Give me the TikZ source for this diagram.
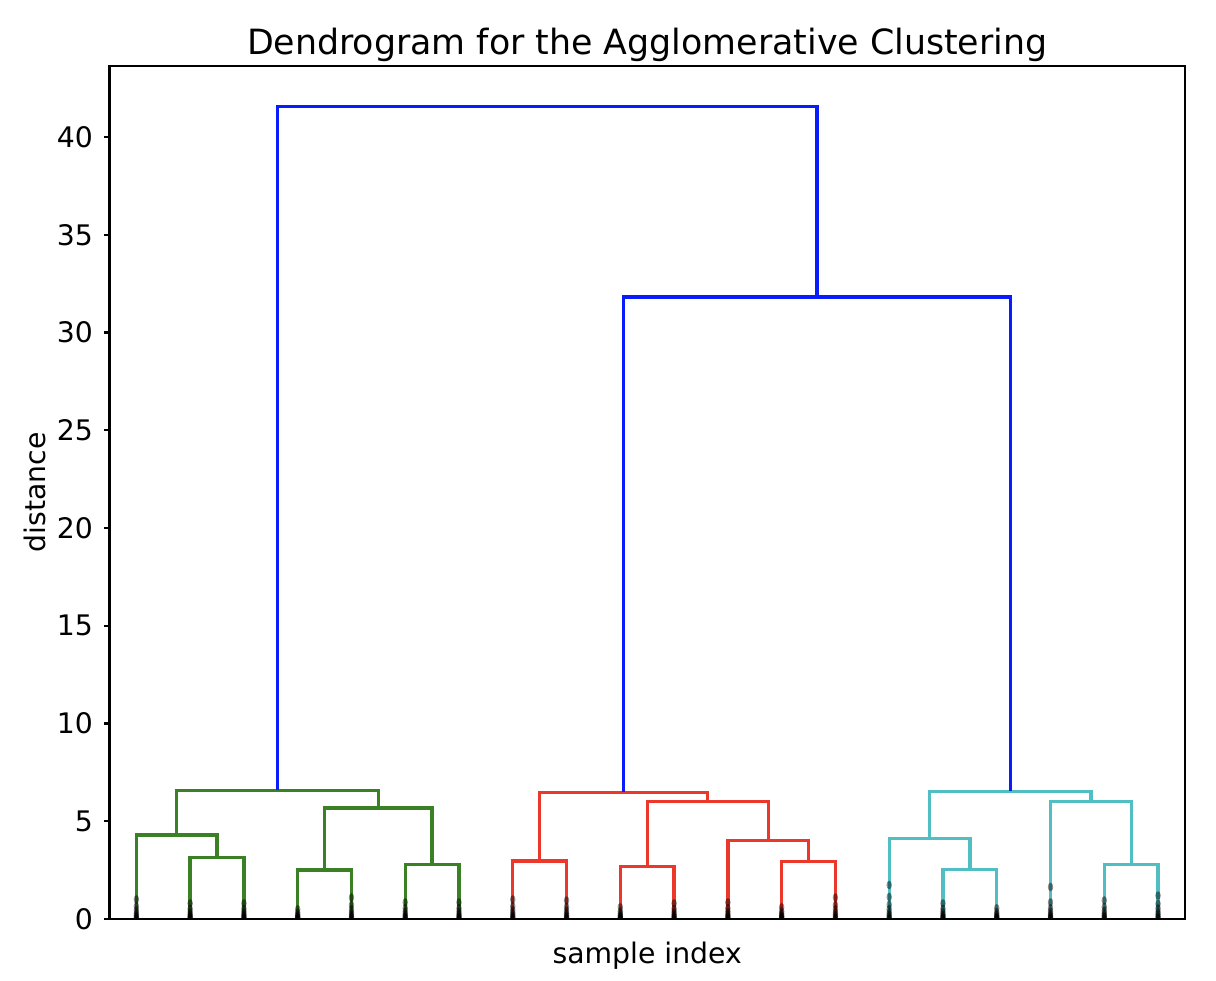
\documentclass[tikz,border=0pt]{standalone}
\usepackage{fontspec}
\setmainfont{DejaVu Sans}
\usepackage{tikz}
\definecolor{cgreen}{RGB}{58,128,36}
\definecolor{cred}{RGB}{236,56,42}
\definecolor{ccyan}{RGB}{80,190,194}
\definecolor{cblue}{RGB}{8,28,252}
\tikzstyle{link} = [line width=0.95pt, line join=miter]
\tikzstyle{greenlink} = [link, cgreen]
\tikzstyle{redlink} = [link, cred]
\tikzstyle{cyanlink} = [link, ccyan]
\tikzstyle{bluelink} = [link, cblue]
\tikzstyle{contract} = [fill=black, fill opacity=0.45]
\tikzstyle{ticklabel} = [anchor=east, inner sep=0pt, font=\fontsize{8.05}{9.5}\selectfont]
\begin{document}
\begin{tikzpicture}
\useasboundingbox (0,0) rectangle (12.16,9.80);
\begin{scope}[shift={(1.095cm,0.61cm)}, x=0.053775cm, y=0.1955cm]

            % Leaves
            \foreach \i in {1,...,20}
                \coordinate (l\i) at ({10*\i-5},0);

            % Merges
            \coordinate (mA) at (20,3.16);
            \coordinate (mB) at (12.5,4.30);
            \coordinate (mC) at (40,2.51);
            \coordinate (mD) at (60,2.78);
            \coordinate (mE) at (50,5.68);
            \coordinate (mG) at (31.25,6.58);
            \coordinate (mH) at (80,2.96);
            \coordinate (mI) at (100,2.70);
            \coordinate (mJ) at (130,2.94);
            \coordinate (mK) at (122.5,4.02);
            \coordinate (mL) at (111.25,6.02);
            \coordinate (mM) at (95.625,6.48);
            \coordinate (mN) at (160,2.54);
            \coordinate (mO) at (152.5,4.12);
            \coordinate (mP) at (190,2.80);
            \coordinate (mQ) at (182.5,6.02);
            \coordinate (mR) at (167.5,6.53);
            \coordinate (mS) at (131.5625,31.82);
            \coordinate (mT) at (81.40625,41.55);

            % Links
            \draw [greenlink] (l2) |- (mA) -| (l3);
            \draw [greenlink] (l1) |- (mB) -| (mA);
            \draw [greenlink] (l4) |- (mC) -| (l5);
            \draw [greenlink] (l6) |- (mD) -| (l7);
            \draw [greenlink] (mC) |- (mE) -| (mD);
            \draw [greenlink] (mB) |- (mG) -| (mE);
            \draw [redlink] (l8) |- (mH) -| (l9);
            \draw [redlink] (l10) |- (mI) -| (l11);
            \draw [redlink] (l13) |- (mJ) -| (l14);
            \draw [redlink] (l12) |- (mK) -| (mJ);
            \draw [redlink] (mI) |- (mL) -| (mK);
            \draw [redlink] (mH) |- (mM) -| (mL);
            \draw [cyanlink] (l16) |- (mN) -| (l17);
            \draw [cyanlink] (l15) |- (mO) -| (mN);
            \draw [cyanlink] (l19) |- (mP) -| (l20);
            \draw [cyanlink] (l18) |- (mQ) -| (mP);
            \draw [cyanlink] (mO) |- (mR) -| (mQ);
            \draw [bluelink] (mM) |- (mS) -| (mR);
            \draw [bluelink] (mG) |- (mT) -| (mS);

            % Contraction marks
            \begin{scope}
            \clip (0,0) rectangle (200,43.63);
            \foreach \x/\t in {5/1.0, 15/0.8, 25/0.8, 35/0.5, 45/1.1, 55/0.85, 65/0.85,
                               75/1.0, 85/0.95, 95/0.6, 105/0.8, 115/0.85, 125/0.6, 135/1.1,
                               145/1.13, 155/0.8, 165/0.55, 175/0.85, 185/0.95, 195/1.2}
                \foreach \f in {0,0.05,0.12,0.2,0.3,0.45,0.65,1}
                    \fill [contract] ({\x},{\f*\t}) ellipse [x radius=0.027cm, y radius=0.043cm];
            \fill [contract] (145,1.74) ellipse [x radius=0.027cm, y radius=0.043cm];
            \fill [contract] (175,1.64) ellipse [x radius=0.027cm, y radius=0.043cm];
            \end{scope}

            % Axes
            \draw [line width=0.6pt] (0,0) rectangle (200,43.63);
            \foreach \v in {0,5,...,40}
                \draw [line width=0.6pt] (0,\v) -- ++(-0.06cm,0)
                    node [ticklabel, xshift=-0.095cm] {\v};

            % Labels
            \node (title) [anchor=base, inner sep=0pt, yshift=0.117cm,
                font=\fontsize{9.9}{11}\selectfont] at (100,43.63)
                {Dendrogram for the Agglomerative Clustering};
            \node (xlabel) [anchor=base, inner sep=0pt, yshift=-0.44cm,
                font=\fontsize{8.05}{9.5}\selectfont] at (100,0) {sample index};
            \node (ylabel) [anchor=base, rotate=90, inner sep=0pt,
                font=\fontsize{8.05}{9.5}\selectfont] at (-11.81,21.815) {distance};

\end{scope}
\end{tikzpicture}
\end{document}
